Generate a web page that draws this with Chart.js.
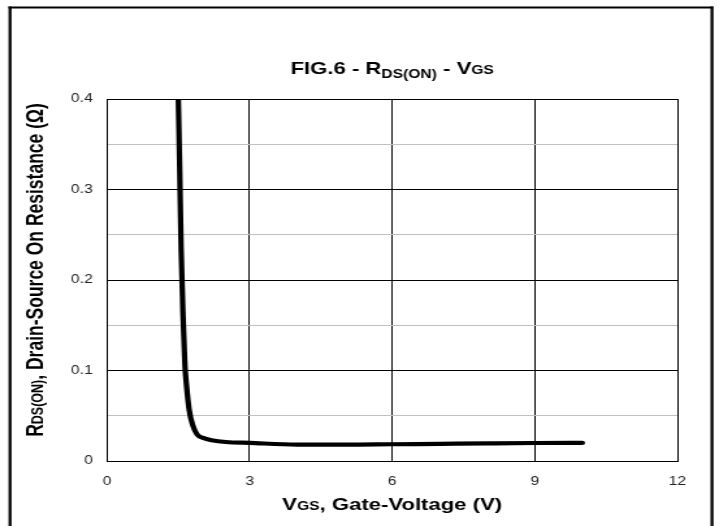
<!DOCTYPE html>
<html>
<head>
<meta charset="utf-8">
<script src="https://cdn.jsdelivr.net/npm/chart.js@4.4.1/dist/chart.umd.min.js"></script>
<style>
  html, body { margin: 0; padding: 0; background: #fff; overflow: hidden; }
  #wrap { width: 553px; height: 526px; transform: scaleX(1.3002); transform-origin: 0 0; }
  canvas { display: block; }
</style>
</head>
<body>
<div id="wrap"><canvas id="c" width="553" height="526"></canvas></div>
<script>
// ---- Data ----
const vgs = [1.50, 1.53, 1.56, 1.60, 1.64, 1.67, 1.73, 1.80, 1.90, 2.05, 2.20, 2.50, 3.0, 4.0, 5.0, 6.0, 7.0, 8.0, 9.0, 10.0];
const rdsOn = [0.400, 0.320, 0.233, 0.160, 0.105, 0.085, 0.056, 0.040, 0.029, 0.025, 0.023, 0.021, 0.020, 0.0182, 0.0180, 0.0185, 0.0190, 0.0195, 0.0199, 0.0200];
const xTicks = [0, 3, 6, 9, 12];
const yTicks = [0, 0.1, 0.2, 0.3, 0.4];

const points = vgs.map((v, i) => ({ x: v, y: rdsOn[i] }));
const FONT = "'Liberation Sans', Arial, Helvetica, sans-serif";

function drawRich(ctx, parts, x, y) {
  let total = 0;
  parts.forEach(p => { ctx.font = 'bold ' + p.size + 'px ' + FONT; p.w = ctx.measureText(p.t).width; total += p.w; });
  let cx = x - total / 2;
  ctx.textAlign = 'left';
  ctx.textBaseline = 'alphabetic';
  parts.forEach(p => {
    ctx.font = 'bold ' + p.size + 'px ' + FONT;
    ctx.fillText(p.t, cx, y + (p.dy || 0));
    cx += p.w;
  });
}

const decorPlugin = {
  id: 'decor',
  beforeDraw(chart) {
    const ctx = chart.ctx;
    ctx.save();
    ctx.fillStyle = '#fff';
    ctx.fillRect(0, 0, chart.width, chart.height);
    ctx.strokeStyle = '#000';
    ctx.lineWidth = 2;
    ctx.beginPath(); ctx.moveTo(6.5, 7.5); ctx.lineTo(548.5, 7.5); ctx.stroke();
    ctx.lineWidth = 2.3;
    ctx.beginPath(); ctx.moveTo(7.7, 6.5); ctx.lineTo(7.7, 530); ctx.stroke();
    ctx.beginPath(); ctx.moveTo(547.6, 6.5); ctx.lineTo(547.6, 530); ctx.stroke();
    ctx.restore();
  },
  afterDraw(chart) {
    const ctx = chart.ctx;
    const a = chart.chartArea;
    const cx = (a.left + a.right) / 2;
    ctx.save();
    ctx.fillStyle = '#000';
    drawRich(ctx, [
      { t: 'FIG.6 - R', size: 17 },
      { t: 'DS(ON)', size: 12, dy: 4 },
      { t: ' - V', size: 17 },
      { t: 'GS', size: 12 }
    ], cx, 74);
    drawRich(ctx, [
      { t: 'V', size: 17 },
      { t: 'GS', size: 12 },
      { t: ', Gate-Voltage (V)', size: 17 }
    ], cx, 510);
    ctx.translate(33, 270);
    ctx.rotate(-Math.PI / 2);
    drawRich(ctx, [
      { t: 'R', size: 17.5 },
      { t: 'DS(ON)', size: 12.5 },
      { t: ', Drain-Source On Resistance (\u03A9)', size: 17.5 }
    ], 0, 0);
    ctx.restore();
  }
};

new Chart(document.getElementById('c'), {
  type: 'scatter',
  data: {
    datasets: [{
      data: points,
      showLine: true,
      borderColor: '#000',
      borderWidth: 4.2,
      borderCapStyle: 'round',
      borderJoinStyle: 'round',
      cubicInterpolationMode: 'monotone',
      pointRadius: 0,
      pointHoverRadius: 0,
      fill: false
    }]
  },
  options: {
    responsive: false,
    animation: false,
    devicePixelRatio: 1,
    layout: { padding: { top: 99, right: 32, bottom: 0, left: 0 } },
    plugins: { legend: { display: false }, title: { display: false }, tooltip: { enabled: false } },
    scales: {
      x: {
        type: 'linear',
        min: xTicks[0],
        max: xTicks[xTicks.length - 1],
        afterFit: s => { s.height = 65; },
        afterBuildTicks: s => { s.ticks = xTicks.map(v => ({ value: v })); },
        ticks: { padding: 13, color: '#222', font: { family: FONT, size: 12 }, maxRotation: 0 },
        grid: { color: '#000', lineWidth: 1, drawTicks: false },
        border: { display: true, color: '#000', width: 1 }
      },
      y: {
        type: 'linear',
        min: yTicks[0],
        max: yTicks[yTicks.length - 1],
        afterFit: s => { s.width = 82.3; },
        afterBuildTicks: s => {
          const t = [];
          for (let i = 0; i < yTicks.length; i++) {
            t.push({ value: yTicks[i] });
            if (i < yTicks.length - 1) t.push({ value: (yTicks[i] + yTicks[i + 1]) / 2 });
          }
          s.ticks = t;
        },
        ticks: {
          padding: 11, color: '#222', font: { family: FONT, size: 12 },
          callback: function (v) {
            const isMajor = yTicks.some(y => Math.abs(y - v) < 1e-9);
            return isMajor ? String(Math.round(v * 10) / 10) : '';
          }
        },
        grid: {
          drawTicks: false,
          lineWidth: 1,
          color: ctx => {
            const v = ctx.tick ? ctx.tick.value : 0;
            return yTicks.some(y => Math.abs(y - v) < 1e-9) ? '#000' : '#c0c0c0';
          }
        },
        border: { display: true, color: '#000', width: 1 }
      }
    }
  },
  plugins: [decorPlugin]
});
</script>
</body>
</html>
